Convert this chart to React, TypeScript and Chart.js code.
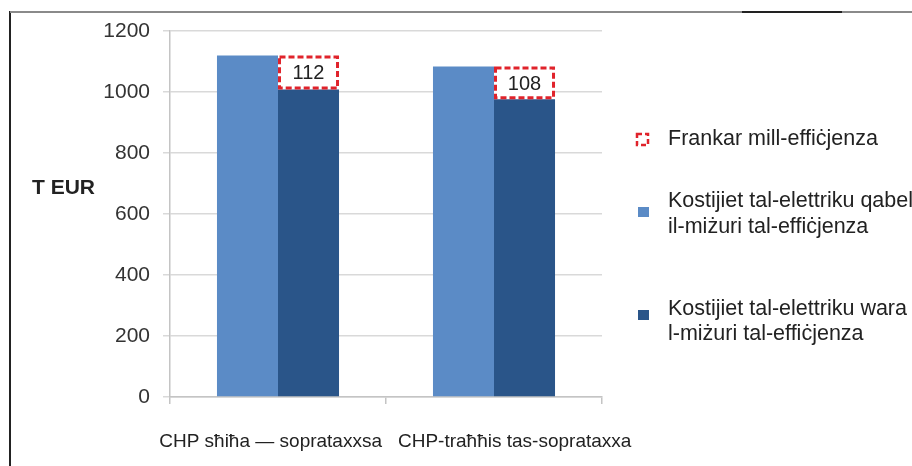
import React, { useEffect, useRef } from "react";
import { Chart, registerables } from "chart.js";

Chart.register(...registerables);

const categories = ["CHP sħiħa — soprataxxsa", "CHP-traħħis tas-soprataxxa"];
const costsBefore = [1120, 1084];
const costsAfter = [1008, 976];
const savings = [112, 108];
const yMin = 0;
const yMax = 1200;
const yStep = 200;
const yTitle = "T EUR";
const savingsLabel = ["Frankar mill-effiċjenza"];
const beforeLabel = ["Kostijiet tal-elettriku qabel", "il-miżuri tal-effiċjenza"];
const afterLabel = ["Kostijiet tal-elettriku wara", "l-miżuri tal-effiċjenza"];

const LIGHT = "#5b8bc6";
const DARK = "#2a5589";
const RED = "#e0232b";
const TEXT = "#222222";
const FONT = "'Liberation Sans', Arial, sans-serif";

const decorPlugin = {
  id: "decor",
  afterDatasetsDraw(chart: any) {
    const ctx = chart.ctx;
    const meta = chart.getDatasetMeta(2);
    ctx.save();
    meta.data.forEach((el: any, i: number) => {
      const left = el.x - el.width / 2;
      const right = el.x + el.width / 2;
      const top = Math.min(el.y, el.base);
      const bottom = Math.max(el.y, el.base);
      ctx.strokeStyle = RED;
      ctx.lineWidth = 3;
      ctx.setLineDash([6, 3]);
      ctx.strokeRect(left + 1.5, top + 1.5, right - left - 3, bottom - top - 3);
      ctx.setLineDash([]);
      ctx.fillStyle = TEXT;
      ctx.font = `20px ${FONT}`;
      ctx.textAlign = "center";
      ctx.textBaseline = "middle";
      ctx.fillText(String(savings[i]), el.x, (top + bottom) / 2 + 1.5);
    });
    ctx.restore();
  },
  afterDraw(chart: any) {
    const ctx = chart.ctx;
    const xs = chart.scales.x;
    ctx.save();
    ctx.fillStyle = TEXT;
    ctx.font = `19px ${FONT}`;
    ctx.textBaseline = "alphabetic";
    const c0 = xs.getPixelForValue(0);
    const c1 = xs.getPixelForValue(1);
    const boundary = (c0 + c1) / 2;
    ctx.textAlign = "right";
    ctx.fillText(categories[0], boundary - 4, 447);
    ctx.textAlign = "left";
    ctx.fillText(categories[1], boundary + 12, 447);

    ctx.font = `bold 21px ${FONT}`;
    ctx.textAlign = "left";
    ctx.fillText(yTitle, 32, 194);

    ctx.font = `21.5px ${FONT}`;
    const tx = 668;
    ctx.fillText(savingsLabel[0], tx, 145);
    ctx.fillText(beforeLabel[0], tx, 207);
    ctx.fillText(beforeLabel[1], tx, 233);
    ctx.fillText(afterLabel[0], tx, 315);
    ctx.fillText(afterLabel[1], tx, 340);

    ctx.strokeStyle = RED;
    ctx.lineWidth = 2.5;
    ctx.setLineDash([5, 3]);
    ctx.strokeRect(637, 134, 11, 11);
    ctx.setLineDash([]);
    ctx.fillStyle = LIGHT;
    ctx.fillRect(638, 207, 11, 10);
    ctx.fillStyle = DARK;
    ctx.fillRect(638, 310, 11, 10);
    ctx.restore();
  },
};

export default function App() {
  const ref = useRef<HTMLCanvasElement | null>(null);
  useEffect(() => {
    if (!ref.current) return;
    const chart = new Chart(ref.current, {
      type: "bar",
      data: {
        labels: categories,
        datasets: [
          { label: beforeLabel.join(" "), data: costsBefore, backgroundColor: LIGHT, stack: "before" },
          { label: afterLabel.join(" "), data: costsAfter, backgroundColor: DARK, stack: "after" },
          { label: savingsLabel.join(" "), data: savings, backgroundColor: "#ffffff", stack: "after" },
        ],
      },
      options: {
        responsive: false,
        animation: false,
        datasets: { bar: { categoryPercentage: 0.565, barPercentage: 1 } },
        layout: { padding: { left: 80, right: 310, top: 31, bottom: 0 } },
        plugins: { legend: { display: false }, tooltip: { enabled: false } },
        scales: {
          x: {
            stacked: true,
            grid: { offset: true, drawOnChartArea: false, tickLength: 7, color: "#c4c4c4", lineWidth: 1.5 },
            border: { color: "#c4c4c4", width: 1.5 },
            ticks: { display: false },
            afterFit: (s: any) => { s.height = 69; },
          },
          y: {
            stacked: true,
            min: yMin,
            max: yMax,
            grid: { color: "#d9d9d9", lineWidth: 1.5, tickLength: 7 },
            border: { color: "#c4c4c4", width: 1.5 },
            ticks: {
              stepSize: yStep,
              padding: 13,
              color: "#333333",
              font: { family: FONT, size: 21 },
              callback: (v: any) => String(v),
            },
            afterFit: (s: any) => { s.width = 90; },
          },
        },
      },
      plugins: [decorPlugin],
    });
    return () => chart.destroy();
  }, []);

  return (
    <div style={{ position: "absolute", left: 0, top: 0, width: 912, height: 466, overflow: "hidden", background: "#fff" }}>
      <canvas ref={ref} width={912} height={466} style={{ position: "absolute", left: 0, top: 0, width: 912, height: 466 }} />
      <div style={{ position: "absolute", left: 9, top: 11, width: 2, height: 455, background: "#222" }} />
      <div style={{ position: "absolute", left: 10, top: 11, width: 902, height: 2, background: "#8a8a8a" }} />
      <div style={{ position: "absolute", left: 742, top: 11, width: 100, height: 2, background: "#222" }} />
    </div>
  );
}
